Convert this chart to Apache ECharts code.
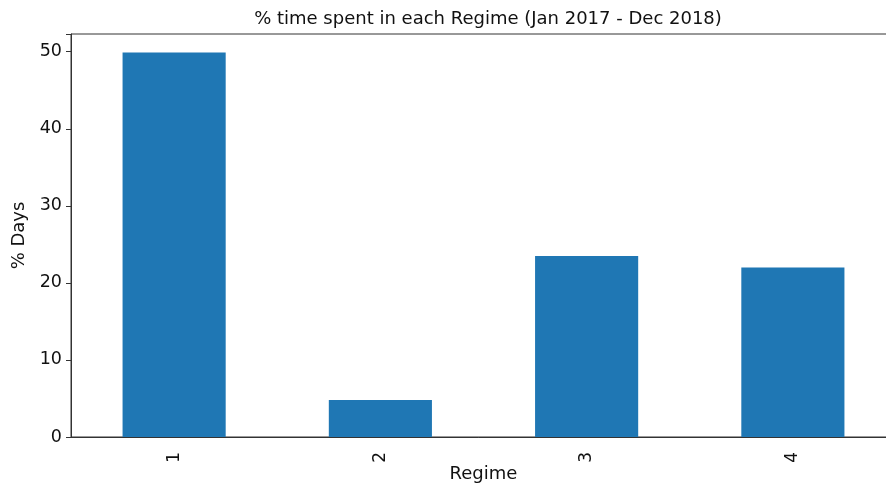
<!DOCTYPE html>
<html>
<head>
<meta charset="utf-8">
<script src="https://cdn.jsdelivr.net/npm/echarts@6/dist/echarts.min.js"></script>
<style>html,body{margin:0;padding:0;background:#fff;}#c{width:886px;height:488px;}</style>
</head>
<body>
<div id="c"></div>
<script>
const categories = ['1', '2', '3', '4'];
const values = [49.9, 4.8, 23.5, 22.0];
const yTicks = [0, 10, 20, 30, 40, 50];
const titleText = '% time spent in each Regime (Jan 2017 - Dec 2018)';

const chart = echarts.init(document.getElementById('c'), null, {renderer: 'canvas'});
const font = 'DejaVu Sans';
chart.setOption({
  animation: false,
  backgroundColor: '#ffffff',
  title: {
    text: titleText,
    left: 483, top: 5, textAlign: 'center',
    textStyle: {fontFamily: font, fontSize: 18, fontWeight: 'normal', color: '#111'}
  },
  grid: {left: 71, top: 34, width: 825, height: 403, show: true, borderColor: '#333', borderWidth: 1,
    containLabel: false, outerBoundsMode: 'none'},
  xAxis: {
    type: 'category',
    data: categories,
    name: 'Regime',
    nameLocation: 'middle',
    nameGap: 28,
    nameMoveOverlap: false,
    nameTextStyle: {fontFamily: font, fontSize: 18, color: '#111'},
    axisLine: {lineStyle: {color: '#333'}},
    axisTick: {alignWithLabel: true, length: 5, lineStyle: {color: '#333'}},
    axisLabel: {rotate: 90, fontFamily: font, fontSize: 17, color: '#111', margin: 15},
    boundaryGap: true
  },
  yAxis: {
    type: 'value',
    min: 0, max: 52.3, interval: 10,
    name: '% Days',
    nameLocation: 'middle',
    nameGap: 43,
    nameMoveOverlap: false,
    nameRotate: 90,
    nameTextStyle: {fontFamily: font, fontSize: 18, color: '#111'},
    axisLine: {show: true, lineStyle: {color: '#333'}},
    axisTick: {show: true, length: 5, lineStyle: {color: '#333'}},
    axisLabel: {fontFamily: font, fontSize: 17.5, color: '#111', margin: 9,
      formatter: v => yTicks.includes(v) ? String(v) : ''},
    splitLine: {show: false}
  },
  series: [{
    type: 'bar',
    data: values,
    barWidth: '50%',
    itemStyle: {color: '#1f77b4'}
  }]
});
</script>
</body>
</html>
